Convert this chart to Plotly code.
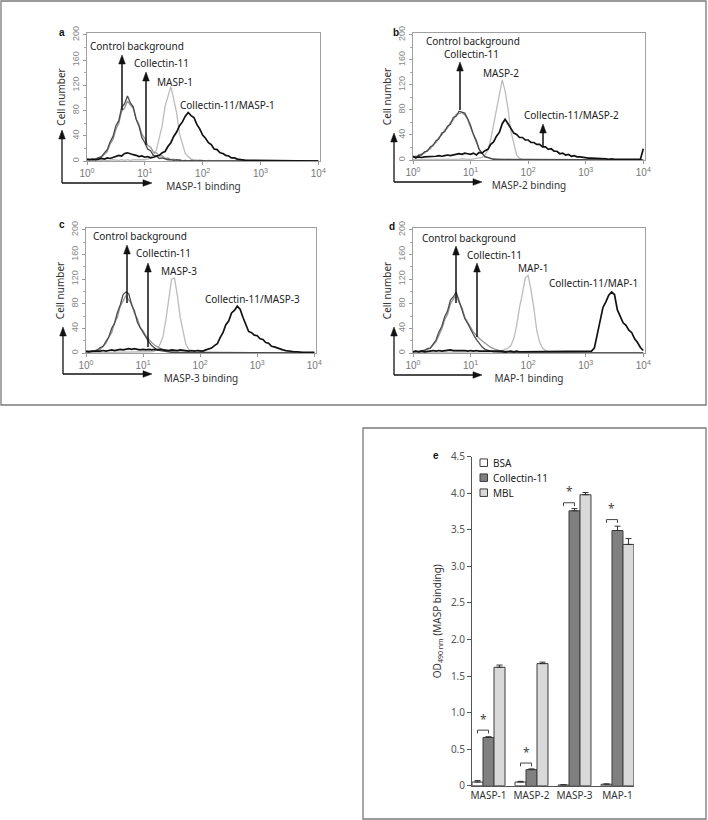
import plotly.graph_objects as go

W, H = 708, 820

# ---------------- DATA ----------------
# flow cytometry channels (fluorescence intensity, 0.05-decade bins)
channel = [1.00, 1.12, 1.26, 1.41, 1.58, 1.78, 2.00, 2.24, 2.51, 2.82, 3.16, 3.55, 3.98, 4.47, 5.01, 5.62, 6.31, 7.08, 7.94, 8.91,
           10.0, 11.2, 12.6, 14.1, 15.8, 17.8, 20.0, 22.4, 25.1, 28.2, 31.6, 35.5, 39.8, 44.7, 50.1, 56.2, 63.1, 70.8, 79.4, 89.1,
           100, 112, 126, 141, 158, 178, 200, 224, 251, 282, 316, 355, 398, 447, 501, 562, 631, 708, 794, 891,
           1000, 1122, 1259, 1413, 1585, 1778, 1995, 2239, 2512, 2818, 3162, 3548, 3981, 4467, 5012, 5623, 6310, 7079, 7943, 8913,
           10000]

masp_names = ['MASP-1', 'MASP-2', 'MASP-3', 'MAP-1']
control_name = 'Control background'
collectin_name = 'Collectin-11'

# panel a
ctrl_a = [2, 3, 2, 4, 6, 7, 13, 18, 30, 39, 56, 64, 85, 91, 103, 92, 86, 66, 55, 37,
          29, 19, 16, 9, 8, 4, 5, 3, 2, 2, 1, 2, 1, 0, 1, 0, 1, 0, 0, 1,
          0, 0, 0, 0, 0, 0, 0, 0, 0, 0, 0, 0, 0, 0, 0, 0, 0, 0, 0, 0,
          0, 0, 0, 0, 0, 0, 0, 0, 0, 0, 0, 0, 0, 0, 0, 0, 0, 0, 0, 0, 0]
coll_a = [1, 2, 3, 2, 5, 6, 11, 15, 27, 34, 50, 60, 79, 84, 95, 88, 83, 67, 58, 42,
          36, 25, 22, 14, 13, 8, 8, 4, 5, 2, 3, 1, 2, 1, 1, 0, 1, 1, 0, 0,
          0, 0, 0, 0, 0, 0, 0, 0, 0, 0, 0, 0, 0, 0, 0, 0, 0, 0, 0, 0,
          0, 0, 0, 0, 0, 0, 0, 0, 0, 0, 0, 0, 0, 0, 0, 0, 0, 0, 0, 0, 0]
masp_a = [1, 0, 1, 1, 0, 1, 1, 1, 1, 2, 1, 1, 2, 1, 2, 1, 2, 2, 1, 2,
          2, 3, 5, 10, 17, 37, 56, 87, 103, 118, 98, 76, 43, 28, 12, 7, 3, 2, 1, 1,
          1, 0, 1, 0, 0, 1, 0, 0, 0, 0, 0, 0, 0, 0, 0, 0, 0, 0, 0, 0,
          0, 0, 0, 0, 0, 0, 0, 0, 0, 0, 0, 0, 0, 0, 0, 0, 0, 0, 0, 0, 0]
combo_a = [3, 2, 3, 2, 3, 4, 3, 5, 4, 6, 7, 9, 8, 12, 13, 11, 10, 9, 7, 8,
           6, 7, 5, 6, 8, 9, 13, 15, 23, 29, 39, 46, 56, 62, 71, 77, 72, 69, 58, 51,
           41, 36, 29, 26, 19, 18, 13, 12, 9, 8, 5, 5, 3, 2, 2, 1, 1, 1, 1, 0,
           1, 0, 1, 0, 0, 1, 0, 0, 0, 0, 0, 0, 0, 0, 0, 0, 0, 0, 0, 0, 0]

# panel b
ctrl_b = [5, 3, 8, 8, 13, 14, 21, 23, 31, 34, 43, 45, 54, 57, 68, 70, 78, 77, 75, 66,
          55, 41, 31, 17, 11, 5, 4, 2, 1, 1, 1, 0, 1, 0, 0, 0, 0, 0, 0, 0,
          0, 0, 0, 0, 0, 0, 0, 0, 0, 0, 0, 0, 0, 0, 0, 0, 0, 0, 0, 0,
          0, 0, 0, 0, 0, 0, 0, 0, 0, 0, 0, 0, 0, 0, 0, 0, 0, 0, 0, 0, 0]
coll_b = [4, 6, 6, 10, 11, 16, 18, 25, 28, 36, 40, 48, 51, 60, 64, 73, 74, 76, 72, 65,
          52, 40, 28, 17, 11, 6, 4, 2, 2, 1, 1, 1, 0, 1, 0, 0, 0, 0, 0, 0,
          0, 0, 0, 0, 0, 0, 0, 0, 0, 0, 0, 0, 0, 0, 0, 0, 0, 0, 0, 0,
          0, 0, 0, 0, 0, 0, 0, 0, 0, 0, 0, 0, 0, 0, 0, 0, 0, 0, 0, 0, 0]
masp_b = [1, 0, 1, 1, 1, 0, 1, 1, 1, 1, 1, 1, 1, 1, 1, 1, 1, 2, 1, 1,
          1, 2, 2, 3, 4, 8, 16, 33, 57, 76, 103, 128, 110, 82, 46, 26, 8, 3, 1, 1,
          1, 0, 0, 1, 0, 0, 0, 0, 0, 0, 0, 0, 0, 0, 0, 0, 0, 0, 0, 0,
          0, 0, 0, 0, 0, 0, 0, 0, 0, 0, 0, 0, 0, 0, 0, 0, 0, 0, 0, 0, 0]
combo_b = [6, 4, 5, 4, 5, 5, 6, 5, 6, 7, 6, 7, 8, 7, 8, 9, 10, 9, 11, 10,
           9, 11, 8, 12, 11, 15, 17, 25, 29, 38, 44, 58, 65, 58, 51, 43, 41, 36, 36, 32,
           32, 28, 28, 25, 25, 21, 21, 17, 18, 14, 14, 10, 11, 8, 9, 6, 7, 5, 5, 4,
           4, 3, 3, 3, 2, 2, 2, 2, 1, 2, 1, 1, 1, 1, 1, 1, 1, 1, 1, 1, 18]

# panel c
ctrl_c = [2, 3, 2, 4, 5, 9, 11, 19, 26, 40, 48, 66, 78, 95, 99, 96, 78, 68, 50, 41,
          33, 24, 18, 12, 8, 5, 4, 3, 2, 2, 1, 1, 1, 0, 0, 0, 0, 0, 0, 0,
          0, 0, 0, 0, 0, 0, 0, 0, 0, 0, 0, 0, 0, 0, 0, 0, 0, 0, 0, 0,
          0, 0, 0, 0, 0, 0, 0, 0, 0, 0, 0, 0, 0, 0, 0, 0, 0, 0, 0, 0, 0]
coll_c = [1, 2, 3, 2, 5, 6, 12, 16, 26, 33, 49, 58, 76, 84, 93, 86, 80, 64, 56, 42,
          36, 28, 22, 17, 13, 10, 7, 5, 4, 3, 2, 2, 1, 1, 1, 0, 0, 0, 0, 0,
          0, 0, 0, 0, 0, 0, 0, 0, 0, 0, 0, 0, 0, 0, 0, 0, 0, 0, 0, 0,
          0, 0, 0, 0, 0, 0, 0, 0, 0, 0, 0, 0, 0, 0, 0, 0, 0, 0, 0, 0, 0]
masp_c = [0, 1, 0, 1, 1, 1, 0, 1, 1, 1, 1, 1, 1, 1, 1, 1, 1, 1, 1, 1,
          1, 1, 1, 2, 3, 6, 15, 27, 54, 86, 120, 122, 94, 58, 33, 14, 6, 2, 1, 1,
          1, 0, 1, 0, 0, 0, 0, 0, 0, 0, 0, 0, 0, 0, 0, 0, 0, 0, 0, 0,
          0, 0, 0, 0, 0, 0, 0, 0, 0, 0, 0, 0, 0, 0, 0, 0, 0, 0, 0, 0, 0]
combo_c = [3, 2, 3, 3, 2, 3, 4, 3, 4, 5, 4, 5, 6, 5, 6, 7, 6, 7, 6, 5,
           6, 5, 6, 5, 6, 5, 6, 5, 5, 4, 5, 4, 4, 5, 4, 4, 3, 4, 3, 4,
           4, 3, 5, 6, 8, 12, 15, 25, 33, 46, 52, 65, 69, 76, 71, 58, 46, 35, 33, 29,
           28, 23, 22, 17, 16, 11, 10, 8, 6, 5, 4, 3, 3, 2, 2, 1, 1, 1, 1, 1, 1]

# panel d
ctrl_d = [2, 3, 2, 4, 4, 7, 8, 15, 21, 34, 43, 59, 68, 86, 91, 99, 84, 72, 56, 48,
          38, 30, 22, 15, 10, 6, 4, 3, 2, 2, 1, 1, 1, 0, 0, 0, 0, 0, 0, 0,
          0, 0, 0, 0, 0, 0, 0, 0, 0, 0, 0, 0, 0, 0, 0, 0, 0, 0, 0, 0,
          0, 0, 0, 0, 0, 0, 0, 0, 0, 0, 0, 0, 0, 0, 0, 0, 0, 0, 0, 0, 0]
coll_d = [1, 2, 3, 3, 4, 6, 8, 13, 18, 29, 39, 54, 63, 80, 86, 94, 82, 74, 58, 51,
          42, 34, 28, 24, 20, 16, 12, 9, 7, 5, 4, 3, 3, 2, 2, 1, 1, 1, 1, 1,
          1, 1, 0, 0, 0, 0, 0, 0, 0, 0, 0, 0, 0, 0, 0, 0, 0, 0, 0, 0,
          0, 0, 0, 0, 0, 0, 0, 0, 0, 0, 0, 0, 0, 0, 0, 0, 0, 0, 0, 0, 0]
masp_d = [1, 0, 1, 1, 1, 1, 1, 1, 1, 1, 1, 1, 1, 1, 1, 1, 1, 1, 1, 1,
          1, 1, 2, 1, 2, 2, 2, 2, 2, 3, 3, 4, 6, 8, 12, 23, 44, 74, 96, 122,
          126, 103, 72, 37, 18, 8, 4, 2, 1, 1, 1, 0, 0, 0, 0, 0, 0, 0, 0, 0,
          0, 0, 0, 0, 0, 0, 0, 0, 0, 0, 0, 0, 0, 0, 0, 0, 0, 0, 0, 0, 0]
combo_d = [2, 3, 2, 3, 2, 3, 3, 4, 3, 4, 3, 4, 4, 5, 4, 4, 5, 4, 4, 3,
           4, 3, 4, 3, 3, 4, 3, 3, 4, 3, 3, 3, 2, 3, 3, 2, 3, 2, 2, 3,
           2, 3, 2, 2, 3, 2, 2, 2, 3, 2, 2, 2, 2, 2, 3, 2, 2, 2, 2, 2,
           2, 2, 3, 8, 31, 50, 74, 83, 94, 99, 95, 70, 59, 49, 45, 37, 33, 23, 17, 9, 4]

hist_ticks = [1, 10, 100, 1000, 10000]
hist_ticktext = ['10<sup>0</sup>', '10<sup>1</sup>', '10<sup>2</sup>', '10<sup>3</sup>', '10<sup>4</sup>']
count_ticks = [0, 40, 80, 120, 160, 200]

# panel e (ELISA)
bar_categories = ['MASP-1', 'MASP-2', 'MASP-3', 'MAP-1']
bar_series = ['BSA', 'Collectin-11', 'MBL']
bsa_od = [0.05, 0.05, 0.01, 0.02]
bsa_err = [0.02, 0.01, 0.005, 0.005]
coll_od = [0.66, 0.22, 3.76, 3.49]
coll_err = [0.01, 0.01, 0.03, 0.06]
mbl_od = [1.62, 1.67, 3.98, 3.30]
mbl_err = [0.03, 0.02, 0.03, 0.08]
no_lower_err = [0, 0, 0, 0]
signif_level = [0.76, 0.31, 3.87, 3.64]
od_ticks = [0, 0.5, 1.0, 1.5, 2.0, 2.5, 3.0, 3.5, 4.0, 4.5]
od_ticktext = ['0', '0.5', '1.0', '1.5', '2.0', '2.5', '3.0', '3.5', '4.0', '4.5']


# ---------------- helpers ----------------
def X(p):
    return p / W


def Y(p):
    return 1 - p / H


FONT = 'Noto Sans, Open Sans, sans-serif'
TICKFONT = 'Liberation Sans Narrow, Arial Narrow, Liberation Sans, sans-serif'
INK = '#111111'

fig = go.Figure()

annotations = []
shapes = []


def up_arrow(x, tail, tip, lw=1.4, head_len=9, half=3.3):
    shapes.append(dict(type='line', xref='paper', yref='paper', x0=X(x), x1=X(x),
                       y0=Y(tail), y1=Y(tip + head_len - 1), line=dict(color=INK, width=lw)))
    shapes.append(dict(type='path', xref='paper', yref='paper',
                       path='M %f,%f L %f,%f L %f,%f Z' % (X(x - half), Y(tip + head_len), X(x), Y(tip),
                                                          X(x + half), Y(tip + head_len)),
                       fillcolor=INK, line=dict(color=INK, width=0.5)))


def right_arrow(x_tail, x_tip, y, lw=1.4, head_len=9, half=3.3):
    shapes.append(dict(type='line', xref='paper', yref='paper', x0=X(x_tail), x1=X(x_tip - head_len + 1),
                       y0=Y(y), y1=Y(y), line=dict(color=INK, width=lw)))
    shapes.append(dict(type='path', xref='paper', yref='paper',
                       path='M %f,%f L %f,%f L %f,%f Z' % (X(x_tip - head_len), Y(y - half), X(x_tip), Y(y),
                                                          X(x_tip - head_len), Y(y + half)),
                       fillcolor=INK, line=dict(color=INK, width=0.5)))


panels = [
    dict(letter='a', sfx='', curves=(ctrl_a, coll_a, masp_a, combo_a), name=masp_names[0],
         dom=((87, 320), (33, 161)), letter_xy=(62, 32),
         corner=(62, 183), vtip=130, htip=152,
         labels=[(89, 46), (133, 63), (156, 82), (179, 105)],
         arrows=[(122, 110, 55), (146, 145, 72)]),
    dict(letter='b', sfx='2', curves=(ctrl_b, coll_b, masp_b, combo_b), name=masp_names[1],
         dom=((413, 645), (33, 160)), letter_xy=(396, 32),
         corner=(394, 182), vtip=133, htip=482,
         labels=[(425, 41), (443, 54.5), (482, 73), (523, 115)],
         arrows=[(460, 110, 62), (543, 147, 124)]),
    dict(letter='c', sfx='3', curves=(ctrl_c, coll_c, masp_c, combo_c), name=masp_names[2],
         dom=((86, 316), (228, 353)), letter_xy=(62, 224),
         corner=(63, 374), vtip=327, htip=152,
         labels=[(92, 236), (135, 253), (160, 271), (204, 299)],
         arrows=[(127, 303, 245), (148, 347, 263)]),
    dict(letter='d', sfx='4', curves=(ctrl_d, coll_d, masp_d, combo_d), name=masp_names[3],
         dom=((413, 645), (228, 353)), letter_xy=(392, 226),
         corner=(394, 375), vtip=327, htip=482,
         labels=[(421, 238), (466, 255), (517, 268), (548, 283)],
         arrows=[(456, 303, 246), (477, 337, 263)]),
]

layout_axes = {}

for p in panels:
    ctrl, coll, masp, combo = p['curves']
    xa, ya = 'x' + p['sfx'], 'y' + p['sfx']
    styles = [
        (masp, p['name'], '#bcbcbc', 1.3),
        (coll, collectin_name, '#959595', 1.3),
        (ctrl, control_name, '#4a4a4a', 1.3),
        (combo, collectin_name + '/' + p['name'], '#111111', 1.7),
    ]
    for vals, nm, col, w in styles:
        fig.add_trace(go.Scatter(x=channel, y=vals, mode='lines', name=nm,
                                 line=dict(color=col, width=w), xaxis=xa, yaxis=ya,
                                 showlegend=False))
    (x0, x1), (y0, y1) = p['dom']
    layout_axes['xaxis' + p['sfx']] = dict(
        domain=[X(x0), X(x1)], type='log', range=[0, 4.03], anchor=ya,
        tickvals=hist_ticks, ticktext=hist_ticktext, ticks='outside', ticklen=3,
        tickcolor='#999', tickfont=dict(family=TICKFONT, size=10, color='#777'),
        showline=True, linecolor='#a0a0a0', linewidth=1, mirror=True,
        showgrid=False, zeroline=False, automargin=False,
        title=dict(text=p['name'] + ' binding', standoff=2,
                   font=dict(family=FONT, size=10, color='#333')))
    layout_axes['yaxis' + p['sfx']] = dict(
        domain=[Y(y1), Y(y0)], range=[0, 203], anchor=xa,
        tickvals=count_ticks, tickangle=-90, ticks='outside', ticklen=3,
        tickcolor='#999', tickfont=dict(family=TICKFONT, size=9, color='#888'),
        minor=dict(dtick=20, ticks='outside', ticklen=2, tickcolor='#aaa'),
        showline=True, linecolor='#a0a0a0', linewidth=1, mirror=True,
        showgrid=False, zeroline=False, automargin=False,
        title=dict(text='Cell number', standoff=3,
                   font=dict(family=FONT, size=10, color='#333')))

    # panel letter
    lx, lyy = p['letter_xy']
    annotations.append(dict(x=X(lx), y=Y(lyy), xref='paper', yref='paper', text='<b>%s</b>' % p['letter'],
                            showarrow=False, xanchor='center', yanchor='middle',
                            font=dict(family='Liberation Sans, Arial, sans-serif', size=10, color=INK)))
    # L-shaped axis arrows
    cx, cy = p['corner']
    up_arrow(cx, cy, p['vtip'], lw=1.3)
    right_arrow(cx, p['htip'], cy, lw=1.3)
    # curve labels
    texts = [control_name, collectin_name, p['name'], collectin_name + '/' + p['name']]
    for (tx, ty), t in zip(p['labels'], texts):
        annotations.append(dict(x=X(tx), y=Y(ty), xref='paper', yref='paper', text=t, showarrow=False,
                                xanchor='left', yanchor='middle', borderpad=0,
                                font=dict(family=FONT, size=10, color='#222')))
    for axx, tail, tip in p['arrows']:
        up_arrow(axx, tail, tip, lw=1.5)

# ---------------- panel e ----------------
bar_fills = ['#ffffff', '#808080', '#d9d9d9']
for vals, err, nm, col in zip([bsa_od, coll_od, mbl_od], [bsa_err, coll_err, mbl_err], bar_series, bar_fills):
    fig.add_trace(go.Bar(x=bar_categories, y=vals, name=nm, xaxis='x5', yaxis='y5', showlegend=False,
                         marker=dict(color=col, line=dict(color='#3c3c3c', width=1)),
                         error_y=dict(type='data', array=err, arrayminus=no_lower_err, symmetric=False,
                                      color='#333', thickness=1, width=3)))

layout_axes['xaxis5'] = dict(domain=[X(472), X(634)], anchor='y5', type='category',
                             range=[-0.384, 3.384], showline=True, linecolor='#555', linewidth=1,
                             ticks='', showgrid=False, zeroline=False, automargin=False,
                             tickfont=dict(family=FONT, size=10, color='#333'))
layout_axes['yaxis5'] = dict(domain=[Y(785.7), Y(456.7)], anchor='x5', range=[0, 4.5],
                             tickvals=od_ticks, ticktext=od_ticktext, ticks='outside', ticklen=4,
                             tickcolor='#555', showline=True, linecolor='#555', linewidth=1,
                             showgrid=False, zeroline=False, automargin=False,
                             tickfont=dict(family=FONT, size=10, color='#555'),
                             title=dict(text='OD<sub>490 nm</sub> (MASP binding)', standoff=7,
                                        font=dict(family=FONT, size=10, color='#333')))

bw = (1 - 0.233) / 3
for i, lvl in enumerate(signif_level):
    xl, xr = i - bw, i
    shapes.append(dict(type='path', xref='x5', yref='y5',
                       path='M %f,%f L %f,%f L %f,%f L %f,%f' % (xl, lvl - 0.045, xl, lvl, xr, lvl, xr, lvl - 0.045),
                       line=dict(color='#444', width=1)))
    annotations.append(dict(x=(xl + xr) / 2, y=lvl + 0.005, xref='x5', yref='y5', text='*', showarrow=False,
                            xanchor='center', yanchor='bottom',
                            font=dict(family=FONT, size=12, color='#444')))

# custom legend for panel e
leg_y = [462.7, 477.7, 492.7]
for nm, col, ly in zip(bar_series, bar_fills, leg_y):
    shapes.append(dict(type='rect', xref='paper', yref='paper', x0=X(480), x1=X(487.5),
                       y0=Y(ly + 3.75), y1=Y(ly - 3.75), fillcolor=col, line=dict(color='#3c3c3c', width=1)))
    annotations.append(dict(x=X(490.5), y=Y(ly), xref='paper', yref='paper', text=nm, showarrow=False,
                            xanchor='left', yanchor='middle', font=dict(family=FONT, size=10, color='#222')))

annotations.append(dict(x=X(436), y=Y(455), xref='paper', yref='paper', text='<b>e</b>', showarrow=False,
                        xanchor='center', yanchor='middle',
                        font=dict(family='Liberation Sans, Arial, sans-serif', size=10, color=INK)))

# frames
shapes.append(dict(type='rect', xref='paper', yref='paper', x0=X(1), x1=X(706), y0=Y(405), y1=Y(1),
                   line=dict(color='#7a7a7a', width=1.3)))
shapes.append(dict(type='rect', xref='paper', yref='paper', x0=X(363), x1=X(706), y0=Y(819), y1=Y(428),
                   line=dict(color='#7a7a7a', width=1.3)))

fig.update_layout(width=W, height=H, margin=dict(l=0, r=0, t=0, b=0),
                  paper_bgcolor='white', plot_bgcolor='white',
                  barmode='group', bargap=0.233, bargroupgap=0,
                  annotations=annotations, shapes=shapes, **layout_axes)

fig.write_html('out.html', config={'displayModeBar': False},
               post_script="document.body.style.margin='0';document.body.style.padding='0';")
